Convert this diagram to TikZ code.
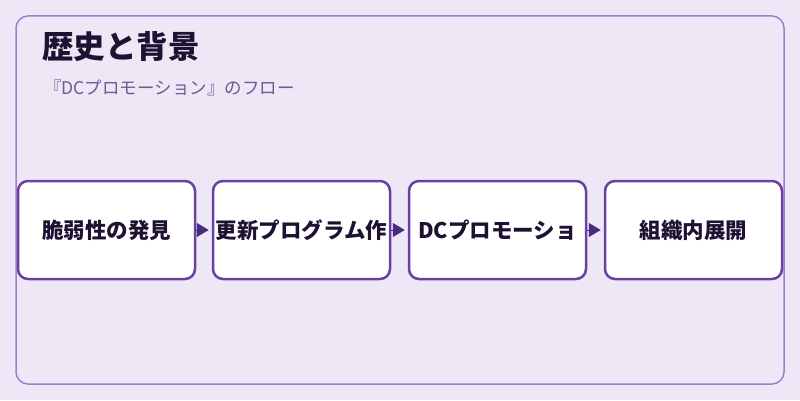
\documentclass[tikz,border=0pt]{standalone}
\usepackage{fontspec}
\setmainfont{Noto Sans CJK JP}
\usetikzlibrary{arrows.meta}
\definecolor{bgpage}{HTML}{EEE7F6}
\definecolor{frameline}{HTML}{A07DD0}
\definecolor{boxline}{HTML}{6B40A3}
\definecolor{arrowcol}{HTML}{4B2A80}
\definecolor{inktext}{HTML}{1E1232}
\definecolor{subtext}{HTML}{6E5A95}
\begin{document}
\begin{tikzpicture}[x=1pt,y=1pt,
    stagebox/.style={draw=boxline, line width=2.5pt, fill=white, rounded corners=10pt,
        minimum width=177pt, minimum height=98pt, inner sep=0pt,
        font=\fontsize{21.5}{24}\selectfont\bfseries, text=inktext},
    flowarrow/.style={draw=arrowcol, line width=1pt, shorten >=3pt,
        -{Triangle[length=12pt,width=14pt]}}]
    \fill[bgpage] (0,0) rectangle (800,400);
    \useasboundingbox (0,0) rectangle (800,400);
    \draw[frameline, line width=1.5pt, rounded corners=12pt] (16,16) rectangle (784,384);
        \node (title) [anchor=west, inner sep=0pt, text=inktext, font=\fontsize{31.5}{34}\selectfont\bfseries] at (42,353) {歴史と背景};
        \node (sub) [anchor=west, inner sep=0pt, text=subtext, font=\fontsize{17.5}{19}\selectfont] at (44,312) {『DCプロモーション』のフロー};
    \node (s1) [stagebox] at (106.5,170) {脆弱性の発見};
    \node (s2) [stagebox] at (301.5,170) {更新プログラム作};
    \node (s3) [stagebox] at (497.5,170) {DCプロモーショ};
    \node (s4) [stagebox] at (693.5,170) {組織内展開};
    \draw[flowarrow] (s1) -- (s2);
    \draw[flowarrow] (s2) -- (s3);
    \draw[flowarrow] (s3) -- (s4);
\end{tikzpicture}
\end{document}
